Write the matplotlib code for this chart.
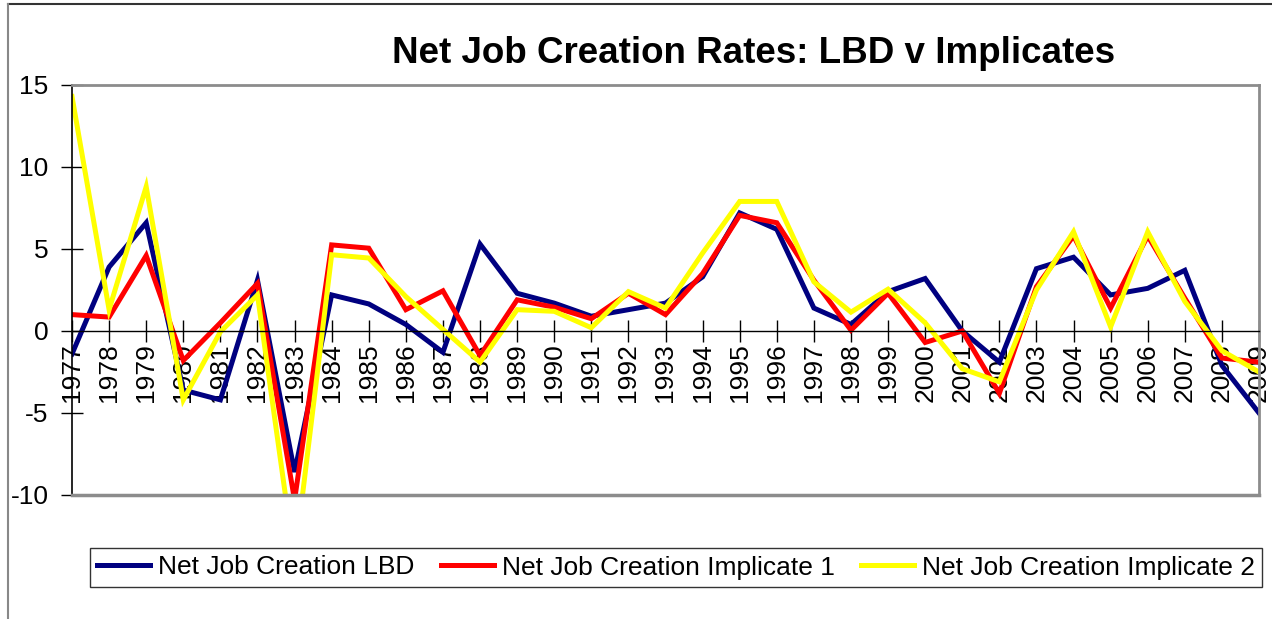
import matplotlib
matplotlib.use("Agg")
import matplotlib.pyplot as plt
from matplotlib.lines import Line2D

plt.rcParams['font.family'] = ['Liberation Sans', 'DejaVu Sans']

years = list(range(1977, 2010))

net_lbd = [-1.4, 3.9, 6.6, -3.6, -4.2, 3.1, -8.6, 2.2, 1.65, 0.4,
           -1.3, 5.3, 2.3, 1.7, 0.9, 1.3, 1.7, 3.3, 7.2, 6.2,
           1.4, 0.4, 2.4, 3.2, 0.0, -1.9, 3.8, 4.5, 2.2, 2.6,
           3.7, -2.1, -5.0]

implicate_1 = [1.0, 0.85, 4.6, -1.8, 0.5, 2.9, -10.3, 5.25, 5.05, 1.3,
               2.45, -1.5, 1.9, 1.45, 0.75, 2.3, 1.0, 3.5, 7.05, 6.6,
               3.1, 0.05, 2.3, -0.7, 0.0, -3.8, 2.7, 5.8, 1.4, 5.8,
               2.0, -1.65, -1.9]

implicate_2 = [14.3, 1.3, 8.8, -4.2, -0.05, 2.2, -14.0, 4.65, 4.45, 2.1,
               0.1, -1.9, 1.3, 1.2, 0.2, 2.4, 1.4, 4.75, 7.9, 7.9,
               3.0, 1.15, 2.55, 0.5, -2.3, -3.1, 2.5, 6.05, 0.25, 6.05,
               1.8, -1.2, -2.5]

series_names = ["Net Job Creation LBD", "Net Job Creation Implicate 1",
                "Net Job Creation Implicate 2"]
series_colors = ["#000080", "#FF0000", "#FFFF00"]
y_ticks = [-10, -5, 0, 5, 10, 15]

W, H = 1272, 619
fig = plt.figure(figsize=(W / 100, H / 100), dpi=100)
fig.patch.set_facecolor("white")

# outer chart-area border (top and left edges)
fig.add_artist(Line2D([8 / W, 1.0], [1 - 4 / H, 1 - 4 / H], color="#333333",
                      lw=1.5, transform=fig.transFigure))
fig.add_artist(Line2D([8 / W, 8 / W], [0, 1 - 4 / H], color="#888888",
                      lw=1.5, transform=fig.transFigure))

ax = fig.add_axes([72 / W, 1 - 495 / H, (1259 - 72) / W, (495 - 85) / H])
ax.set_axisbelow(True)

# category axis crosses at zero
ax.spines['bottom'].set_position(('data', 0))
ax.spines['bottom'].set_color("black")
ax.spines['bottom'].set_linewidth(1.0)
ax.spines['left'].set_color("black")
ax.spines['left'].set_linewidth(1.2)
for s in ['top', 'right']:
    ax.spines[s].set_color("#8c8c8c")
    ax.spines[s].set_linewidth(2.0)
# gray frame along the bottom of the plot area
ax.plot([0, 1], [0, 0], transform=ax.transAxes, color="#8c8c8c", lw=2.5,
        clip_on=False, zorder=5)

for vals, name, col in zip([net_lbd, implicate_1, implicate_2],
                           series_names, series_colors):
    ax.plot(years, vals, color=col, lw=3.6, label=name, solid_joinstyle="miter")

ax.set_xlim(years[0], years[-1])
ax.set_ylim(-10, 15)
ax.set_yticks(y_ticks)
ax.set_yticklabels([str(t) for t in y_ticks])
ax.set_xticks(years)
ax.set_xticklabels([str(y) for y in years])

ax.tick_params(axis='y', direction='inout', length=16, width=1.0,
               labelsize=19, pad=9, color="black")
ax.tick_params(axis='x', direction='inout', length=16, width=1.0,
               labelsize=19, pad=1, color="black", labelrotation=90)

fig.text(754 / W, 1 - 63 / H, "Net Job Creation Rates: LBD v Implicates",
         ha="center", va="baseline", fontsize=26.5, fontweight="bold")

leg = fig.legend(loc="center", bbox_to_anchor=(676 / W, 1 - 567.5 / H),
                 ncol=3, fontsize=19, frameon=True, fancybox=False,
                 edgecolor="black", handlelength=2.0, handletextpad=0.3,
                 columnspacing=1.0, borderpad=0.3)
leg.get_frame().set_linewidth(1.0)
for h in leg.legend_handles:
    h.set_linewidth(3.6)

fig.savefig("out.png", dpi=100, facecolor="white")
